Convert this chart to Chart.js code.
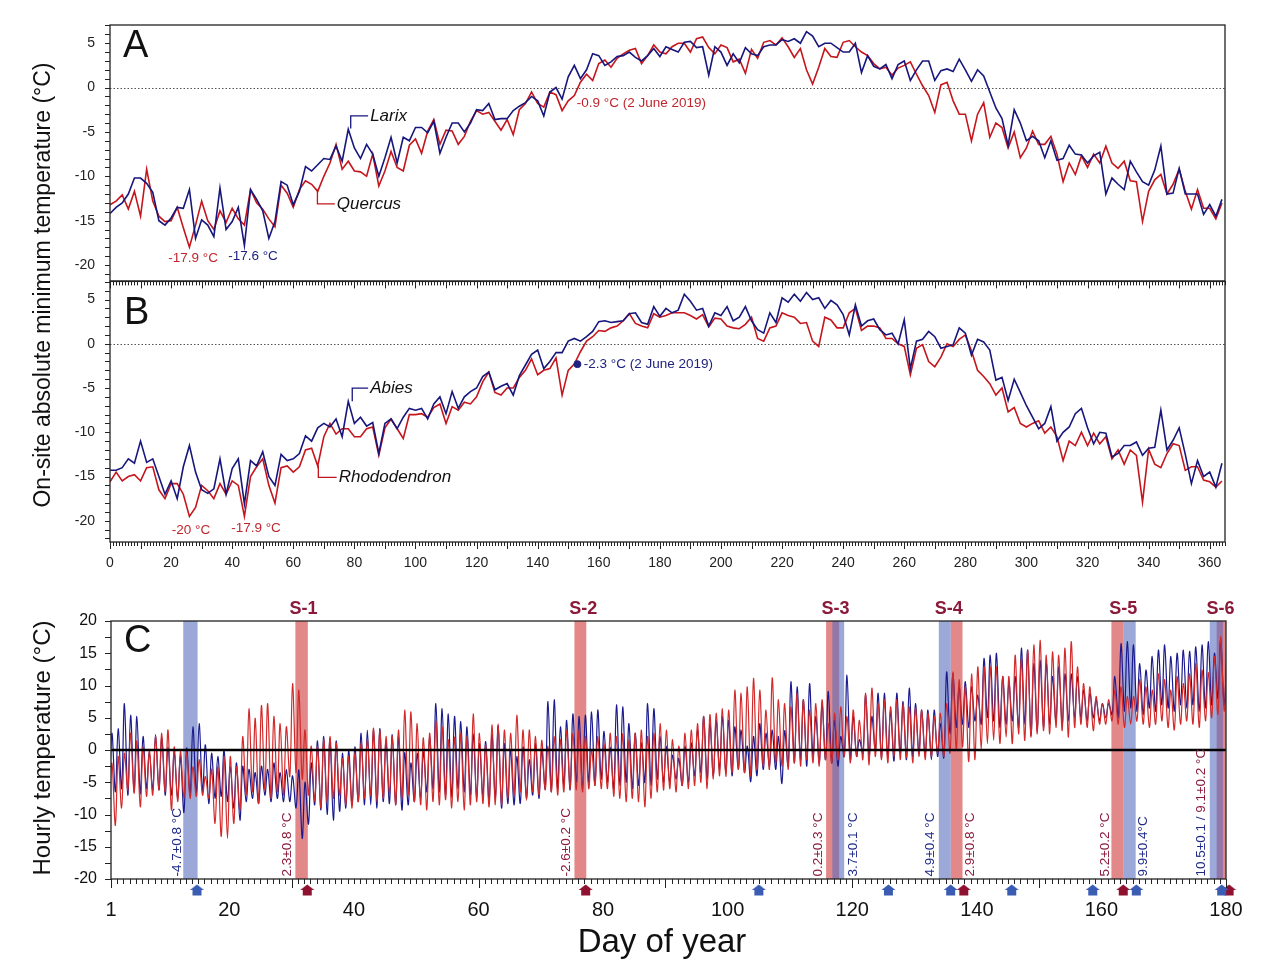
<!DOCTYPE html>
<html><head><meta charset="utf-8">
<script src="https://cdn.jsdelivr.net/npm/chart.js@4.4.1/dist/chart.umd.min.js"></script>
<style>
html,body{margin:0;padding:0;background:#fff;}
#wrap{position:relative;width:1268px;height:966px;overflow:hidden;font-family:"Liberation Sans",Arial,sans-serif;background:#fff;}
canvas{position:absolute;left:0;}
.ttl{position:absolute;color:#111;white-space:nowrap;transform:translate(-50%,-50%);}
.rot{transform:translate(-50%,-50%) rotate(-90deg);}
</style></head><body>
<div id="wrap">
<canvas id="cA" width="1268" height="305" style="top:0px"></canvas>
<canvas id="cB" width="1268" height="322" style="top:258px"></canvas>
<canvas id="cC" width="1268" height="376" style="top:590px"></canvas>
<div class="ttl rot" style="left:42px;top:285px;font-size:23px;">On-site absolute minimum temperature (°C)</div>
<div class="ttl rot" style="left:42px;top:748px;font-size:24px;">Hourly temperature (°C)</div>
<div class="ttl" style="left:662px;top:941px;font-size:33px;">Day of year</div>
</div>
<script>
// ---------------- DATA ----------------
// Panels A and B: daily absolute minimum, sampled every 2 days (day 0,2,...,364)
const STEP = 2;
const larix = [
 -14.2,-13.5,-13,-12,-10.2,-10.2,-10.8,-11.8,-15,-15.5,
 -14.7,-13.5,-13.6,-11.5,-17,-14.9,-15.5,-16.8,-11.3,-16,
 -15.1,-13.5,-17.8,-11.5,-12.6,-13.9,-17,-15.1,-10.6,-11,
 -13.2,-11.7,-8.9,-9.4,-8.7,-8,-8.1,-6.6,-8.3,-4.7,
 -6.8,-8,-6.4,-7.5,-10,-7.9,-5.6,-8.5,-5.6,-6,
 -4.5,-4.5,-5.1,-3.8,-7.4,-5.6,-4,-4,-5,-4,
 -2.5,-2.6,-1.8,-3.6,-3.5,-3.5,-2.6,-2.1,-1.7,-1,
 -1.5,-3.2,-0.5,0,-1.3,1.2,2.5,1,2,3.8,
 3.6,2.5,2.9,3.5,3.6,4,3.4,3,3.6,4.4,
 3.5,4.6,4.3,4,5.1,5.2,4.5,4.6,1.4,4.6,
 4,2.5,3.8,2.8,4.5,3.8,3.6,4.6,4.8,4.8,
 5.4,5.2,5.5,5,6.3,5.8,4.6,5,5,4.5,
 4,4,5,1.7,3.6,2.4,2.1,2.6,1,2.6,
 3,0.8,2,3,3,0.8,1.9,2.1,1.8,3.2,
 2,0.7,2,1.3,-0.5,-2.3,-3.5,-6.5,-2.5,-4,
 -6,-5.5,-6,-7.9,-6,-8.2,-8,-6.5,-7.5,-7.6,
 -8.5,-7.7,-7.3,-12,-10.2,-10.9,-11.5,-8.3,-9.5,-10.6,
 -11,-9.3,-6.6,-12,-11.9,-9.1,-12,-12,-12,-14.3,
 -13.2,-14.5,-12.6];
const quercus = [
 -13.2,-12.8,-12.1,-13.7,-11.7,-14.5,-9.2,-12.8,-14.5,-15.1,
 -15,-13.5,-15.8,-18,-15.5,-12.8,-15,-16,-13.9,-15.2,
 -13.6,-14.8,-15.5,-11.5,-13,-13.7,-14.8,-15.7,-11,-11.9,
 -13.5,-11.5,-10.5,-10.9,-11.7,-10,-8.5,-6.4,-9.2,-8.3,
 -9.4,-9.5,-10,-7.5,-11.1,-9.4,-7.2,-9,-9.4,-6.5,
 -5.8,-7.4,-4.9,-3.6,-6.4,-4.8,-4.9,-6.4,-5.5,-3.8,
 -2.6,-3,-2.8,-3.8,-4.8,-3.6,-5.3,-2.5,-1.8,-0.5,
 -1.8,-2.2,-0.5,-0.8,-2.6,-1.5,-0.9,0.6,1.5,0.8,
 2.7,3.1,2.3,3.3,3.8,4.2,4.4,2.7,3.6,4.8,
 4,3.8,4.6,5,5,4,5.5,5.7,4.5,3.8,
 4.8,4.5,2.9,3.2,1.6,4.3,3.3,5.1,5.3,4.8,
 5.6,4.6,3.4,4.4,2,0.4,2.3,4.4,3.5,3.4,
 5.1,5.3,4.6,4,3.6,2.7,2.1,2.3,1.4,2.2,
 2.5,2.9,1.5,0.2,-0.9,-2.8,0.3,0.6,-1.5,-3,
 -3,-6,-3,-1.7,-5.6,-4,-4.5,-6.8,-5,-7.9,
 -6.8,-4.9,-6.4,-6.4,-5.5,-7.5,-10.6,-8.5,-9.8,-7.7,
 -9,-7.5,-8.5,-6.6,-8.5,-9.1,-8.3,-10.5,-10.6,-15.1,
 -11.7,-10.4,-9.8,-12,-10.9,-9.2,-11.7,-13.7,-11.5,-13.6,
 -13.6,-14.8,-13];
const abies = [
 -14.3,-14.3,-14,-13,-13.5,-11,-13.4,-13,-15,-17,
 -15.5,-17.5,-13.9,-11.5,-14.5,-16.5,-16.9,-16.4,-13,-17,
 -14.1,-13,-18.1,-13.2,-13.8,-12.2,-15,-16,-12.5,-13.2,
 -13,-12.4,-10.4,-11,-9.5,-9,-9.4,-8.5,-10.5,-6.5,
 -9,-8.3,-9.3,-8.9,-12.4,-9,-8.5,-9.6,-8.3,-7.3,
 -7.5,-7.3,-8.5,-6.8,-6,-7.9,-5.4,-7.3,-6,-5.4,
 -5,-3.7,-3.2,-5.2,-4.8,-4.5,-5.8,-3.6,-2.4,-1.2,
 -0.7,-2.8,-2,-1,-1,0.3,0.6,0.3,0.8,1.4,
 2.5,2.6,2.4,2.5,2.6,3.4,3.5,2.4,2.2,4.2,
 3.1,4,3.5,3.8,5.6,4.8,3.8,4,2,3.5,
 3.2,4.2,2.6,3,4.2,2.6,1.6,1.2,3.5,2.4,
 5.2,4.7,5.6,4.8,5.8,5,5.2,4,4.9,4.4,
 3.3,1,4.4,2,2.6,2.8,1.6,1,1.2,0,
 2.7,-2.8,0.3,0.5,1.4,0.8,-0.5,-0.3,-0.1,1.8,
 1.2,-1.3,0.5,0.2,-0.7,-4.1,-3.8,-6.4,-4,-5.5,
 -7,-8.3,-9.6,-9,-7.1,-11,-10,-9.4,-7.9,-7.3,
 -9.5,-11.3,-10,-10.1,-12.8,-12.4,-11.5,-11.5,-11.1,-12.6,
 -11.8,-11.7,-7.5,-12,-10.9,-9.5,-12.5,-15.8,-13.2,-15,
 -14.5,-16.2,-13.5];
const rhododendron = [
 -15.6,-14.5,-15.5,-15,-14.8,-15.5,-14,-13.9,-16.5,-17.5,
 -15.8,-15.8,-17,-19.5,-18.5,-16,-16.6,-17.5,-15.8,-17,
 -15.5,-16,-19.5,-15,-13.9,-13,-16,-18,-14,-13.8,
 -14.5,-13.9,-12,-11.8,-13.8,-10.5,-9,-10.2,-9.6,-9.6,
 -10.5,-10.5,-9.6,-9.4,-12.6,-9.5,-8.5,-9.6,-10.7,-8,
 -8,-7.9,-8.3,-7.2,-6.8,-9,-7.1,-7.5,-6.6,-6.8,
 -6,-4.3,-3.2,-5.5,-5.8,-5,-5,-3.8,-3,-1.7,
 -3.5,-3,-2.8,-1.6,-5.8,-3,-2.3,-0.9,0.3,0.8,
 1.5,1.4,1.8,2,2.6,3.4,2.3,2,1.8,3.4,
 3,3.2,3.5,3.5,3.5,3.2,2.8,3.3,1.9,2.9,
 2.8,2,1.8,1.7,2.2,3,0.6,0.3,1.8,2,
 3.5,3.2,3,2.3,2.4,0.3,-0.3,3,2.7,1.8,
 1.8,3.5,4,1.5,2,2,1.8,0.6,0.6,0,
 -0.3,-3.5,-0.5,-0.1,-2,-2.6,-1.5,0,-0.3,0.5,
 1,-0.8,-3,-3.7,-4.5,-5.8,-5,-7.7,-7.2,-9,
 -9.4,-9,-8.7,-10.1,-9.4,-10.5,-13.2,-11,-11.5,-10,
 -11.5,-10.1,-11.3,-10.5,-13,-12,-13.6,-12,-12.6,-17.9,
 -11.9,-13.6,-14,-12.4,-11.3,-11.5,-14.3,-13.9,-13.9,-15.4,
 -15.6,-16.2,-15.5];
const juneDay = [153];
const juneVal = [-2.3];

// Panel C: daily maximum / minimum of the hourly record, days 1..180
const cBlueMax = [
 2.6,3.3,7.2,5.4,5.2,2.1,-0.4,2.4,1.9,0.5,
 -0.4,-1,0.3,3.6,4.1,0.8,-0.5,-1,0,-2.6,
 -2,-2.5,-3,-3.5,-2.5,-3,-2,-3.5,-3,-4,
 -3.1,-5,-2,1.4,2.1,1.8,1.4,-0.5,0,0.5,
 2.6,3.1,3.1,3.3,1.4,2.4,2.1,-0.4,-2,-0.5,
 -0.3,2,7.2,6.4,5.6,5.2,4.4,3.6,2.5,1,
 1.3,2.5,3.8,1,0,-1,0.5,-1.5,1,0,
 7.5,7.8,3.6,4.6,5.6,5.2,5.4,5.9,6.2,2.9,
 0.4,7,6.7,4.1,2.6,1.1,7.2,6.4,2.1,0.6,
 -0.8,-1.3,0.6,1.1,3.1,5.2,4.1,4.6,5.2,4.6,
 3.6,3.1,0.6,2.1,4.1,2.6,3.1,2.1,3,10.6,
 9.8,7.8,10.3,5.2,7.2,9.1,4.6,2.1,11.6,5.2,
 1.6,8.5,5.2,8.8,8.8,6,8.8,7.5,9.6,7.2,
 6.2,6.2,6.2,4.1,12.1,11.8,9.8,10.6,9.8,8.5,
 14.2,14.7,15,11.4,10.3,11.4,15.8,15.5,13.4,13.9,
 13.4,11.4,12.9,11.8,11.8,11.4,9.3,8.8,7.8,7.2,
 7.2,11.4,16.5,16.8,16.3,13.4,12.4,14.5,15.5,16.3,
 14.5,15,15.5,15.3,16,16.3,16.8,15,17.1,15];
const cBlueMin = [
 -8.3,-6.5,-6,-7,-6.5,-6.8,-6,-6.2,-6.2,-7,
 -7,-7.5,-9.7,-7,-6.7,-6.5,-8.3,-7.5,-7.2,-8,
 -9,-10.9,-8,-7.5,-8.3,-7,-8,-7.5,-8,-8,
 -9,-13.7,-11.5,-8.5,-9.3,-10,-10.9,-9.5,-9,-8.5,
 -8,-8.5,-8.5,-9,-8,-8.3,-8.5,-9.3,-8.5,-8,
 -7.5,-6.5,-6,-6.5,-7,-7.3,-6,-6.5,-7,-7.3,
 -7,-8,-7.5,-9,-8.3,-8.5,-8.3,-7.5,-7,-7.5,
 -6,-6.5,-6,-5.5,-6.2,-5,-6,-5,-5.5,-4.5,
 -5,-6,-5.5,-5,-6,-5.5,-5,-5.5,-4.5,-5,
 -5,-4.5,-5.5,-5,-4,-3.5,-4.5,-4,-3,-3.5,
 -4,-3,-3.5,-4.9,-4,-3,-2.5,-3,-5.2,-2.5,
 -2,-1.5,-2.5,-1,-2,-1.5,-2,-2.5,-1,-1.5,
 -1,-0.5,-1,0,-1.5,-1,-1.7,-0.5,-1.5,-1,
 -0.5,-1,-1.5,-1,-1.2,2.5,3.5,4,3.5,4.5,
 4,5,4.5,3.5,4,4.5,3.5,4,2.3,3,
 3.5,4,4.5,4,4.5,5,5,4.5,5,4.5,
 5,5.5,5,6,6.5,6,5.5,6.5,6,7,
 6.5,6,7,6.5,7,6,6.5,7,8,7];
const cRedMax = [
 -2,-1,-0.5,2.6,1.4,0.5,0,2.1,2.6,3.1,
 0.5,-0.2,-0.2,-2.6,-1.5,-4.1,-3,-2.6,-1,-1,
 -2.6,2.1,6.4,4.9,6.9,7.2,5.2,4.1,3.6,10.3,
 9.3,3.1,0.6,0.6,1.6,2.1,1.1,-1.3,-1,-0.5,
 1.1,1.6,3.4,3.1,2.1,2.1,3.1,6.2,5.9,4.1,
 1.9,2.6,4.6,3.6,1.6,2,2.6,2.1,5.6,2.6,
 0.8,3.9,4.1,3.1,2.6,5.4,3.1,3.1,2.1,1.5,
 0.6,2.1,1.6,3.1,2.6,3.1,2.1,0,2.1,1.1,
 2.6,2.1,2.5,1.6,2.6,3.1,2.1,2.6,4.1,3.1,
 1.6,0.6,2.6,3.1,4.1,5.2,5.5,5.7,6.4,6.2,
 9.3,8.8,9.8,11.1,9.3,6.2,11.2,7.8,7.2,6.7,
 8.8,7.8,6.2,7.2,7.8,4.1,5.7,6.7,5.2,6.2,
 4.6,8.8,9.6,7.2,7.8,6.7,7.8,7.2,6.7,6.5,
 6.2,5.7,5.2,5.7,7.2,12.1,10.9,9.8,11.8,12.9,
 12.9,12.9,12.9,11.4,11.4,14.7,14.1,15.5,16.3,17,
 14.7,15.2,14.7,15.8,16.8,12.9,10.3,9.8,8.3,7.2,
 7.8,9.3,9.8,8.3,8.3,10.9,9.8,9.3,11.8,10.9,
 9.3,11.4,10.3,11.8,13.4,12.4,12,14.5,17.6,17.3];
const cRedMin = [
 -10.9,-11.7,-9,-6.2,-6.7,-8.8,-7.2,-7,-6.2,-6.5,
 -9.3,-8,-7.5,-7.5,-7.2,-7,-7.5,-11.4,-13.4,-13.7,
 -11.4,-9.3,-7,-6.5,-8.3,-6.2,-7.5,-6.5,-7,-4.1,
 -3.5,-4.5,-7,-8,-9,-8,-7.5,-7,-8.5,-9,
 -8,-7.5,-7,-8,-7.5,-7,-8.5,-7.5,-7,-8,
 -8.5,-9.3,-8,-8.5,-7.7,-9,-8,-9.3,-8.5,-8,
 -8.3,-8.8,-8.5,-8.5,-7.5,-7,-6.5,-7.8,-6.5,-7,
 -6.2,-6.5,-7,-6.5,-6,-6.2,-6.5,-6,-5.5,-6,
 -6,-7.2,-7.5,-8,-7.5,-8,-8.8,-7.5,-6.5,-6.2,
 -6,-6.5,-5.5,-6,-5.5,-5,-6,-4.5,-4,-4.1,
 -3.5,-3,-3.5,-4,-3,-2.5,-3,-2,-2.5,-3,
 -2,-2.5,-1.5,-2,-2.5,-1.5,-2,-1.5,-1,-2,
 -1,-1.5,-2.3,-1,-1.5,-2,-1,-1.5,-1.2,-2,
 -1,-1.5,-1,-0.5,-1,-0.5,0,0.5,-1.8,-1.5,
 0,1,1.5,1,2,1,2.5,1.5,2,2.5,
 3,2.5,3.5,3,2,3.5,4,3.5,3,4,
 4,4.5,4,3.5,4,4.5,4,3.5,4,4.5,
 3.5,3.1,4,4.5,4,3.5,4.5,5,5.5,6];

// Panel C sampling periods (day ranges), labels and markers
const bandsRed  = [[30.6,32.6],[75.4,77.3],[115.8,117.9],[135.8,137.7],[161.6,163.5],[178.5,180]];
const bandsBlue = [[12.6,14.9],[116.8,118.7],[133.9,135.8],[163.5,165.5],[177.4,179.5]];
const sLabels = ['S-1','S-2','S-3','S-4','S-5','S-6'];
const sDays   = [31.9,76.8,117.3,135.5,163.5,179.1];
const arrowBlueDays = [14.8,105,125.8,135.8,145.6,158.6,165.6,179.3];
const arrowRedDays  = [32.5,77.2,137.9,163.5,180.5];
const xTicksC = [1,20,40,60,80,100,120,140,160,180];
const cNoteDays  = [11.6,29.3,74.1,114.6,120.2,132.6,138.9,160.7,166.7];
const cNoteTexts = ['-4.7±0.8 °C','2.3±0.8 °C','-2.6±0.2 °C','0.2±0.3 °C','3.7±0.1 °C','4.9±0.4 °C','2.9±0.8 °C','5.2±0.2 °C','9.9±0.4°C'];
const cNoteSite  = ['b','r','r','r','b','b','r','r','b'];
const cNoteLastDay = 176.1;
const cNoteLast = ['10.5±0.1 / ','9.1±0.2 °C'];

// ---------------- STYLE ----------------
const FONT = '"Liberation Sans", Arial, sans-serif';
Chart.defaults.font.family = FONT;
Chart.defaults.color = '#222';
const BLUE = '#16167c', RED = '#c4161c';
const CBLUE = '#1a1a8e', CRED = '#d22a2a';
const TRED = '#c0272d', TBLUE = '#1f237f';
const NRED = '#8b1a3a', NBLUE = '#1f2a8a';

function pts(arr){ return arr.map((v,i)=>({x:i*STEP, y:v})); }
function hourly(mn, mx){ const p=[]; for(let i=0;i<mn.length;i++){ const d=i+1; p.push({x:d-0.3,y:mn[i]}); p.push({x:d+0.15,y:mx[i]}); } return p; }
function house(color){
  const c=document.createElement('canvas'); c.width=15; c.height=12;
  const g=c.getContext('2d'); g.fillStyle=color; g.beginPath();
  g.moveTo(0.5,6); g.lineTo(7.5,0.5); g.lineTo(14.5,6); g.lineTo(12,6); g.lineTo(12,11.5); g.lineTo(3,11.5); g.lineTo(3,6); g.closePath(); g.fill();
  return c;
}
function frame(chart){
  const {ctx, chartArea:a}=chart; ctx.save(); ctx.strokeStyle='#222'; ctx.lineWidth=1.3;
  ctx.strokeRect(a.left, a.top, a.right-a.left, a.bottom-a.top); ctx.restore();
}
function yTicks(chart, from, to, step, len){
  const {ctx, chartArea:a, scales:{y}}=chart; ctx.save(); ctx.strokeStyle='#222'; ctx.lineWidth=1; ctx.beginPath();
  for(let v=from; v<=to+1e-9; v+=step){ const py=Math.round(y.getPixelForValue(v))+0.5; ctx.moveTo(a.left-len,py); ctx.lineTo(a.left,py); }
  ctx.stroke(); ctx.restore();
}
function xTicks(chart, from, to, lenFn, base){
  const {ctx, chartArea:a, scales:{x}}=chart; ctx.save(); ctx.strokeStyle='#222'; ctx.lineWidth=1; ctx.beginPath();
  for(let d=from; d<=to; d++){ const px=Math.round(x.getPixelForValue(d))+0.5; ctx.moveTo(px,base); ctx.lineTo(px,base+lenFn(d)); }
  ctx.stroke(); ctx.restore();
}
function text(ctx, s, x, y, font, color, align){
  ctx.save(); ctx.font=font; ctx.fillStyle=color; ctx.textAlign=align||'left'; ctx.textBaseline='middle'; ctx.fillText(s,x,y); ctx.restore();
}
function leader(chart, day, v0, v1, day2, color, label){
  const {ctx, scales:{x,y}}=chart; const px=x.getPixelForValue(day), p0=y.getPixelForValue(v0), p1=y.getPixelForValue(v1), px2=x.getPixelForValue(day2);
  ctx.save(); ctx.strokeStyle=color; ctx.lineWidth=1.3; ctx.beginPath(); ctx.moveTo(px,p0); ctx.lineTo(px,p1); ctx.lineTo(px2,p1); ctx.stroke(); ctx.restore();
  text(ctx, label, px2+2, p1, 'italic 17px '+FONT, '#111', 'left');
}
function zeroDotted(chart){
  const {ctx, chartArea:a, scales:{y}}=chart; const y0=Math.round(y.getPixelForValue(0))+0.5;
  ctx.save(); ctx.strokeStyle='#555'; ctx.lineWidth=1; ctx.setLineDash([1.5,2]); ctx.beginPath(); ctx.moveTo(a.left,y0); ctx.lineTo(a.right,y0); ctx.stroke(); ctx.restore();
}
const NOTE_FONT = '13.5px '+FONT;

const commonAB = (ymin, ymax, padTop, xHeight, showX) => ({
  responsive:false, animation:false, maintainAspectRatio:false,
  layout:{padding:{left:0,right:43,top:padTop,bottom:0}},
  plugins:{legend:{display:false}, tooltip:{enabled:false}},
  scales:{
    x:{type:'linear', min:0, max:365, display:showX,
       ticks:{stepSize:20, includeBounds:false, padding:13, font:{size:14}, color:'#222', maxRotation:0, autoSkip:false},
       grid:{display:false, drawTicks:false}, border:{display:false}, afterFit(s){ s.height=xHeight; }},
    y:{type:'linear', min:ymin, max:ymax,
       ticks:{stepSize:5, includeBounds:false, padding:15, font:{size:14}, color:'#222'},
       grid:{display:false, drawTicks:false}, border:{display:false}, afterFit(s){ s.width=110; }}
  }
});

// ---------------- PANEL A ----------------
new Chart(document.getElementById('cA'), {
  type:'scatter',
  data:{datasets:[
    {data:pts(larix), showLine:true, borderColor:BLUE, borderWidth:1.6, pointRadius:0, tension:0},
    {data:pts(quercus), showLine:true, borderColor:RED, borderWidth:1.6, pointRadius:0, tension:0}
  ]},
  options:commonAB(-21.8, 7.05, 25, 24, false),
  plugins:[{id:'decoA',
    beforeDatasetsDraw(chart){ zeroDotted(chart); },
    afterDraw(chart){
      const {ctx, chartArea:a, scales:{x,y}}=chart;
      frame(chart); yTicks(chart,-21,7,1,5);
      xTicks(chart,0,365,d=>d%10===0?7:4,a.bottom);
      text(ctx,'A',a.left+13,a.top+22,'38px '+FONT,'#111','left');
      leader(chart,78.8,-4.6,-3.2,84.5,BLUE,'Larix');
      leader(chart,67.9,-11.5,-13.1,73.6,RED,'Quercus');
      text(ctx,'-17.9 °C',x.getPixelForValue(27.2),y.getPixelForValue(-19.2),NOTE_FONT,TRED,'center');
      text(ctx,'-17.6 °C',x.getPixelForValue(46.8),y.getPixelForValue(-19.0),NOTE_FONT,TBLUE,'center');
      text(ctx,'-0.9 °C (2 June 2019)',x.getPixelForValue(152.8),y.getPixelForValue(-1.8),NOTE_FONT,TRED,'left');
    }}]
});

// ---------------- PANEL B ----------------
new Chart(document.getElementById('cB'), {
  type:'scatter',
  data:{datasets:[
    {data:juneDay.map((d,i)=>({x:d,y:juneVal[i]})), showLine:false, pointRadius:3.5, pointBackgroundColor:TBLUE, pointBorderColor:TBLUE},
    {data:pts(abies), showLine:true, borderColor:BLUE, borderWidth:1.6, pointRadius:0, tension:0},
    {data:pts(rhododendron), showLine:true, borderColor:RED, borderWidth:1.6, pointRadius:0, tension:0}
  ]},
  options:commonAB(-22.4, 7.05, 4, 38, true),
  plugins:[{id:'decoB',
    beforeDatasetsDraw(chart){ zeroDotted(chart); },
    afterDraw(chart){
      const {ctx, chartArea:a, scales:{x,y}}=chart;
      frame(chart); yTicks(chart,-22,7,1,5);
      xTicks(chart,0,365,d=>d%10===0?7:4,a.top);
      xTicks(chart,0,365,d=>d%10===0?7:4,a.bottom);
      text(ctx,'B',a.left+14,a.top+32,'38px '+FONT,'#111','left');
      leader(chart,79.3,-6.5,-5.0,84.5,BLUE,'Abies');
      leader(chart,68.2,-13.75,-15.1,74.2,RED,'Rhododendron');
      text(ctx,'-20 °C',x.getPixelForValue(26.5),y.getPixelForValue(-21.1),NOTE_FONT,TRED,'center');
      text(ctx,'-17.9 °C',x.getPixelForValue(47.8),y.getPixelForValue(-20.9),NOTE_FONT,TRED,'center');
      text(ctx,'-2.3 °C (2 June 2019)',x.getPixelForValue(155.1),y.getPixelForValue(-2.27),NOTE_FONT,TBLUE,'left');
    }}]
});

// ---------------- PANEL C ----------------
const houseBlue = house('#3a5cb2'), houseRed = house('#8e1230');
new Chart(document.getElementById('cC'), {
  type:'scatter',
  data:{datasets:[
    {data:hourly(cRedMin,cRedMax), showLine:true, borderColor:CRED, borderWidth:1.2, pointRadius:0, tension:0.35},
    {data:hourly(cBlueMin,cBlueMax), showLine:true, borderColor:CBLUE, borderWidth:1.2, pointRadius:0, tension:0.35},
    {data:arrowBlueDays.map(d=>({x:d,y:-21.7})), showLine:false, pointStyle:houseBlue, radius:18, pointRadius:18, clip:false},
    {data:arrowRedDays.map(d=>({x:d,y:-21.7})), showLine:false, pointStyle:houseRed, radius:18, pointRadius:18, clip:false}
  ]},
  options:{
    responsive:false, animation:false, maintainAspectRatio:false,
    layout:{padding:{left:0,right:42,top:31,bottom:0}},
    plugins:{legend:{display:false}, tooltip:{enabled:false}},
    scales:{
      x:{type:'linear', min:1, max:180,
         afterBuildTicks(s){ s.ticks = xTicksC.map(v=>({value:v})); },
         ticks:{padding:19, font:{size:20}, color:'#111', maxRotation:0, autoSkip:false},
         grid:{display:false, drawTicks:false}, border:{display:false}, afterFit(s){ s.height=87; }},
      y:{type:'linear', min:-20, max:20,
         ticks:{stepSize:5, padding:14, font:{size:16}, color:'#111'},
         grid:{display:false, drawTicks:false}, border:{display:false}, afterFit(s){ s.width=111; }}
    }
  },
  plugins:[{id:'decoC',
    beforeDatasetsDraw(chart){
      const {ctx, chartArea:a, scales:{x}}=chart;
      ctx.save(); ctx.beginPath(); ctx.rect(a.left,a.top,a.right-a.left,a.bottom-a.top); ctx.clip();
      ctx.fillStyle='rgba(214,80,80,0.68)';
      bandsRed.forEach(b=>{ const x1=x.getPixelForValue(b[0]), x2=x.getPixelForValue(b[1]); ctx.fillRect(x1,a.top,x2-x1,a.bottom-a.top); });
      ctx.fillStyle='rgba(90,110,190,0.6)';
      bandsBlue.forEach(b=>{ const x1=x.getPixelForValue(b[0]), x2=x.getPixelForValue(b[1]); ctx.fillRect(x1,a.top,x2-x1,a.bottom-a.top); });
      ctx.restore();
    },
    afterDatasetsDraw(chart){
      const {ctx, chartArea:a, scales:{y}}=chart; const y0=y.getPixelForValue(0);
      ctx.save(); ctx.strokeStyle='#000'; ctx.lineWidth=2.4; ctx.beginPath(); ctx.moveTo(a.left,y0); ctx.lineTo(a.right,y0); ctx.stroke(); ctx.restore();
    },
    afterDraw(chart){
      const {ctx, chartArea:a, scales:{x,y}}=chart;
      frame(chart); yTicks(chart,-20,20,2.5,6);
      xTicks(chart,1,180,d=>(d===1||d%30===0)?9:5,a.bottom);
      text(ctx,'C',a.left+13,a.top+21,'38px '+FONT,'#111','left');
      sLabels.forEach((s,i)=>text(ctx,s,x.getPixelForValue(sDays[i]),a.top-12,'bold 18px '+FONT,NRED,'center'));
      const yb = y.getPixelForValue(-19.6);
      ctx.save(); ctx.font=NOTE_FONT; ctx.textBaseline='middle'; ctx.textAlign='left';
      cNoteDays.forEach((d,i)=>{
        ctx.save(); ctx.translate(x.getPixelForValue(d), yb); ctx.rotate(-Math.PI/2);
        ctx.fillStyle = cNoteSite[i]==='b'?NBLUE:NRED; ctx.fillText(cNoteTexts[i],0,0); ctx.restore();
      });
      ctx.save(); ctx.translate(x.getPixelForValue(cNoteLastDay), yb); ctx.rotate(-Math.PI/2);
      ctx.fillStyle=NBLUE; ctx.fillText(cNoteLast[0],0,0);
      const w=ctx.measureText(cNoteLast[0]).width; ctx.fillStyle=NRED; ctx.fillText(cNoteLast[1],w,0);
      ctx.restore(); ctx.restore();
    }}]
});
</script>
</body></html>
